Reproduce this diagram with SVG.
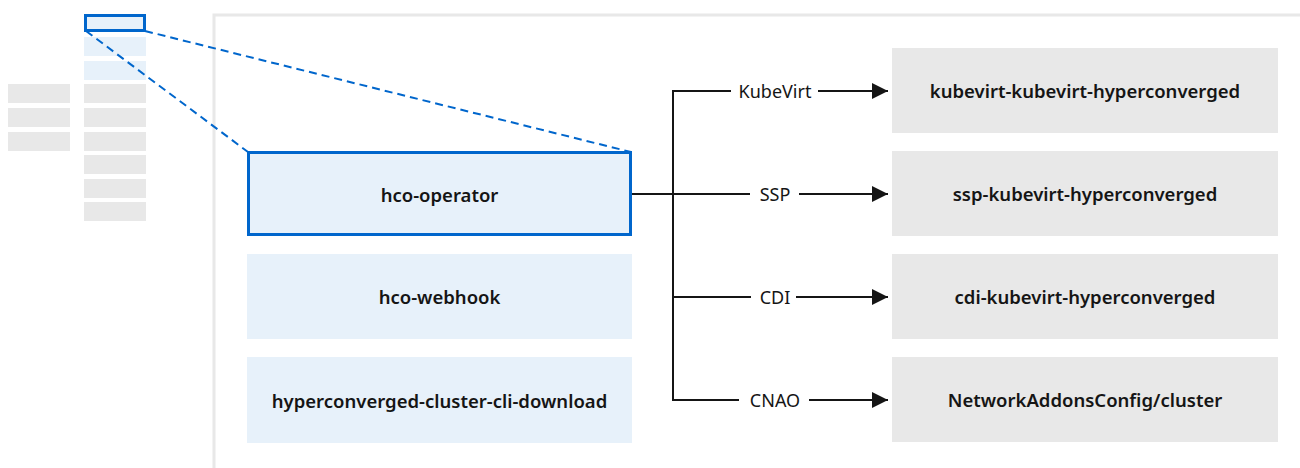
<svg xmlns="http://www.w3.org/2000/svg" width="1300" height="468" viewBox="0 0 1300 468">
<defs>
<style>
.mini-blue{fill:#e7f1fa}
.mini-gray{fill:#e8e8e8}
.frame{fill:none;stroke:#e8e8e8;stroke-width:3}
.dash{fill:none;stroke:#0066cc;stroke-width:2;stroke-dasharray:8 5}
.sel{fill:#e7f1fa;stroke:#0066cc;stroke-width:3}
.pod{fill:#e7f1fa}
.cr{fill:#e8e8e8}
.conn{fill:none;stroke:#151515;stroke-width:2}
.lbl{font-family:"Noto Sans","Liberation Sans",sans-serif;font-size:18px;fill:#151515;text-anchor:middle;dominant-baseline:central}
.name{font-family:"Noto Sans","Liberation Sans",sans-serif;font-size:18.5px;font-weight:600;fill:#151515;text-anchor:middle;dominant-baseline:central}
</style>
<marker id="arr" viewBox="0 0 16 16" refX="16" refY="8" markerWidth="16" markerHeight="16" markerUnits="userSpaceOnUse" orient="auto">
<path d="M0,0 L16,8 L0,16 Z" fill="#151515"/>
</marker>
</defs>
<g id="minimap">
<rect class="mini-gray" x="8" y="84" width="62" height="19"/>
<rect class="mini-gray" x="8" y="108" width="62" height="19"/>
<rect class="mini-gray" x="8" y="132" width="62" height="19"/>
<rect class="mini-blue" x="84" y="37" width="62" height="19"/>
<rect class="mini-blue" x="84" y="61" width="62" height="19"/>
<rect class="mini-gray" x="84" y="84" width="62" height="19"/>
<rect class="mini-gray" x="84" y="108" width="62" height="19"/>
<rect class="mini-gray" x="84" y="132" width="62" height="19"/>
<rect class="mini-gray" x="84" y="155" width="62" height="19"/>
<rect class="mini-gray" x="84" y="179" width="62" height="19"/>
<rect class="mini-gray" x="84" y="202" width="62" height="19"/>
<rect class="sel" x="85.5" y="15.5" width="59" height="15"/>
</g>
<path id="frame" class="frame" d="M214,468 L214,15 L1300,15"/>
<g id="zoom-lines">
<line class="dash" x1="86" y1="31" x2="248" y2="152"/>
<line class="dash" x1="145" y1="31" x2="631" y2="152"/>
</g>
<g id="hco-operator">
<rect class="sel" x="248.5" y="152.5" width="382" height="82"/>
<text class="name" x="439.5" y="194">hco-operator</text>
</g>
<g id="hco-webhook">
<rect class="pod" x="247" y="254" width="385" height="85"/>
<text class="name" x="439.5" y="296.5">hco-webhook</text>
</g>
<g id="hyperconverged-cluster-cli-download">
<rect class="pod" x="247" y="357" width="385" height="86"/>
<text class="name" x="439.5" y="400">hyperconverged-cluster-cli-download</text>
</g>
<g id="kubevirt-kubevirt-hyperconverged">
<rect class="cr" x="892" y="48" width="386" height="85"/>
<text class="name" x="1085" y="90.5">kubevirt-kubevirt-hyperconverged</text>
</g>
<g id="ssp-kubevirt-hyperconverged">
<rect class="cr" x="892" y="151" width="386" height="85"/>
<text class="name" x="1085" y="193.5">ssp-kubevirt-hyperconverged</text>
</g>
<g id="cdi-kubevirt-hyperconverged">
<rect class="cr" x="892" y="254" width="386" height="85"/>
<text class="name" x="1085" y="296.5">cdi-kubevirt-hyperconverged</text>
</g>
<g id="networkaddonsconfig-cluster">
<rect class="cr" x="892" y="357" width="386" height="85"/>
<text class="name" x="1085" y="399.5">NetworkAddonsConfig/cluster</text>
</g>
<g id="connectors">
<path class="conn" d="M731,91 L673,91 L673,400 L739,400"/>
<path class="conn" d="M632,194 L750,194"/>
<path class="conn" d="M673,297 L751,297"/>
<path class="conn" d="M818,91 L888,91" marker-end="url(#arr)"/>
<path class="conn" d="M799,194 L888,194" marker-end="url(#arr)"/>
<path class="conn" d="M796,297 L888,297" marker-end="url(#arr)"/>
<path class="conn" d="M809,400 L888,400" marker-end="url(#arr)"/>
<text class="lbl" x="775" y="91">KubeVirt</text>
<text class="lbl" x="775" y="194">SSP</text>
<text class="lbl" x="775" y="297">CDI</text>
<text class="lbl" x="775" y="400">CNAO</text>
</g>
</svg>
